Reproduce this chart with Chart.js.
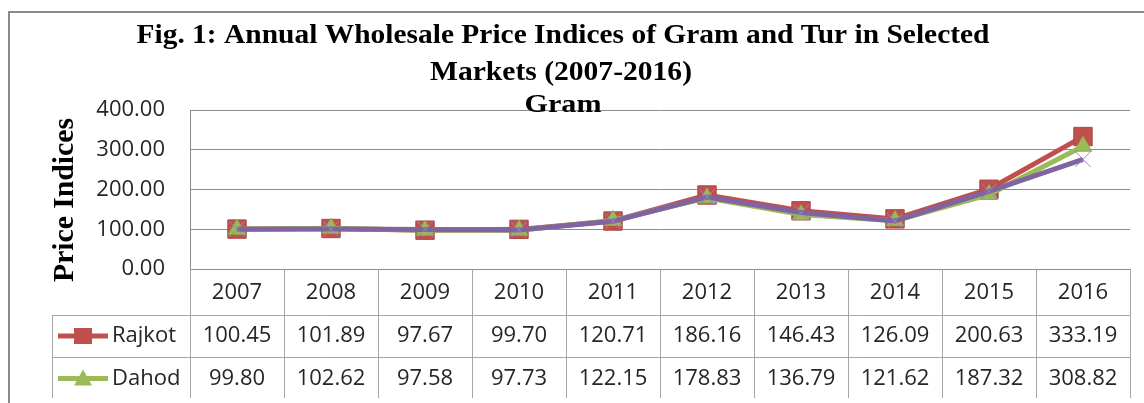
<!DOCTYPE html>
<html>
<head>
<meta charset="utf-8">
<script src="https://cdn.jsdelivr.net/npm/chart.js@4.4.1/dist/chart.umd.min.js"></script>
<style>
  html, body { margin: 0; padding: 0; background: #fff; }
  #wrap { width: 1144px; height: 403px; }
</style>
</head>
<body>
<div id="wrap"><canvas id="chart" width="1144" height="403"></canvas></div>
<script>
const years = ['2007', '2008', '2009', '2010', '2011', '2012', '2013', '2014', '2015', '2016'];
const rajkot = [100.45, 101.89, 97.67, 99.70, 120.71, 186.16, 146.43, 126.09, 200.63, 333.19];
const dahod = [99.80, 102.62, 97.58, 97.73, 122.15, 178.83, 136.79, 121.62, 187.32, 308.82];
// third market: its table row is cut off
const thirdMarket = [100.2, 100.6, 99.6, 98.4, 120.2, 181.0, 142.0, 121.0, 195.5, 276.0];
const yTicks = [0, 100, 200, 300, 400];

const red = '#C0504D', green = '#9BBB59', purple = '#8064A2';
const gridGray = '#8c8c8c', tableGray = '#a6a6a6';
const textColor = '#262626';
const sansFont = '"Open Sans", sans-serif';

// fit a text line to a given width (the reference title font is condensed)
function fitText(c, text, cx, y, width) {
    const w = c.measureText(text).width;
    c.save();
    c.translate(cx, y);
    c.scale(width / w, 1);
    c.fillText(text, 0, 0);
    c.restore();
}

function drawKeyMarker(c, kind, x, y) {
    if (kind === 'rect') {
        c.fillStyle = red;
        c.fillRect(x - 9, y - 8, 18, 16);
    } else {
        c.fillStyle = green;
        c.beginPath();
        c.moveTo(x, y - 9);
        c.lineTo(x + 9, y + 7);
        c.lineTo(x - 9, y + 7);
        c.closePath();
        c.fill();
    }
}

const decorations = {
    id: 'decorations',
    afterDraw(chart) {
        const c = chart.ctx;
        const area = chart.chartArea;
        const xs = chart.scales.x;
        const H = chart.height;

        // outer frame
        c.save();
        c.strokeStyle = '#8a8a8a';
        c.lineWidth = 2;
        c.beginPath();
        c.moveTo(9, H);
        c.lineTo(9, 12);
        c.lineTo(chart.width, 12);
        c.stroke();

        // titles
        c.fillStyle = '#000';
        c.textAlign = 'center';
        c.textBaseline = 'alphabetic';
        c.font = 'bold 27px "Liberation Serif", "Times New Roman", serif';
        fitText(c, 'Fig. 1: Annual Wholesale Price Indices of Gram and Tur in Selected', 563, 43, 853);
        fitText(c, 'Markets (2007-2016)', 561, 80, 262);
        c.font = 'bold 26px "Liberation Serif", "Times New Roman", serif';
        fitText(c, 'Gram', 563, 112, 77);

        // y-axis title
        c.save();
        c.translate(73, 200);
        c.rotate(-Math.PI / 2);
        c.font = 'bold 30px "Liberation Serif", "Times New Roman", serif';
        fitText(c, 'Price Indices', 0, 0, 164);
        c.restore();

        // data table under the plot
        const n = years.length;
        const colW = (area.right - area.left) / n;
        const top = area.bottom;
        const catBottom = top + 46;
        const row1Bottom = catBottom + 42;
        const tableLeft = 52;
        const tableBottom = 398;

        c.strokeStyle = tableGray;
        c.lineWidth = 1;
        c.beginPath();
        for (let i = 0; i <= n; i++) {
            const bx = Math.round(area.left + i * colW) + 0.5;
            c.moveTo(bx, top);
            c.lineTo(bx, tableBottom);
        }
        c.moveTo(tableLeft + 0.5, catBottom);
        c.lineTo(tableLeft + 0.5, tableBottom);
        c.moveTo(tableLeft, catBottom + 0.5);
        c.lineTo(area.right, catBottom + 0.5);
        c.moveTo(tableLeft, row1Bottom + 0.5);
        c.lineTo(area.right, row1Bottom + 0.5);
        c.stroke();

        c.font = '22px ' + sansFont;
        c.fillStyle = textColor;
        c.textAlign = 'center';
        c.textBaseline = 'middle';
        const rows = [
            { name: 'Rajkot', values: rajkot, color: red, marker: 'rect', y: (catBottom + row1Bottom) / 2 },
            { name: 'Dahod', values: dahod, color: green, marker: 'triangle', y: (row1Bottom + tableBottom) / 2 + 1 }
        ];
        for (let i = 0; i < n; i++) {
            const cx = xs.getPixelForValue(i);
            c.fillText(years[i], cx, (top + catBottom) / 2 + 1);
            rows.forEach(r => c.fillText(r.values[i].toFixed(2), cx, r.y));
        }

        rows.forEach(r => {
            c.strokeStyle = r.color;
            c.lineWidth = 5;
            c.beginPath();
            c.moveTo(58, r.y);
            c.lineTo(108, r.y);
            c.stroke();
            drawKeyMarker(c, r.marker, 83, r.y);
            c.fillStyle = textColor;
            c.textAlign = 'left';
            c.fillText(r.name, 112, r.y);
        });
        c.restore();
    }
};

new Chart(document.getElementById('chart'), {
    type: 'line',
    data: {
        labels: years,
        datasets: [
            {
                label: 'Rajkot', data: rajkot, order: 2,
                borderColor: red, backgroundColor: red, borderWidth: 5,
                pointStyle: 'rect', pointRadius: 13, pointBorderWidth: 1, pointBorderColor: '#b04642'
            },
            {
                label: 'Dahod', data: dahod, order: 1,
                borderColor: green, backgroundColor: green, borderWidth: 5,
                pointStyle: 'triangle', pointRadius: 10, pointBorderWidth: 1, pointBorderColor: '#8fae52'
            },
            {
                label: 'Third market', data: thirdMarket, order: 0,
                borderColor: purple, backgroundColor: purple, borderWidth: 5,
                pointStyle: 'crossRot', pointRadius: 11, pointBorderWidth: 1, pointBorderColor: '#9a84bb'
            }
        ]
    },
    options: {
        responsive: false,
        animation: false,
        layout: { padding: { left: 0, right: 14, top: 110, bottom: 134 } },
        scales: {
            x: { display: false, offset: true },
            y: {
                min: 0, max: 400,
                afterFit(scale) { scale.width = 190; },
                afterBuildTicks(scale) { scale.ticks = yTicks.map(v => ({ value: v })); },
                ticks: {
                    padding: 25,
                    color: textColor,
                    font: { family: sansFont, size: 22 },
                    callback: v => v.toFixed(2)
                },
                grid: { color: gridGray, drawTicks: false },
                border: { color: gridGray }
            }
        },
        plugins: {
            legend: { display: false },
            title: { display: false },
            tooltip: { enabled: false }
        }
    },
    plugins: [decorations]
});
</script>
</body>
</html>
